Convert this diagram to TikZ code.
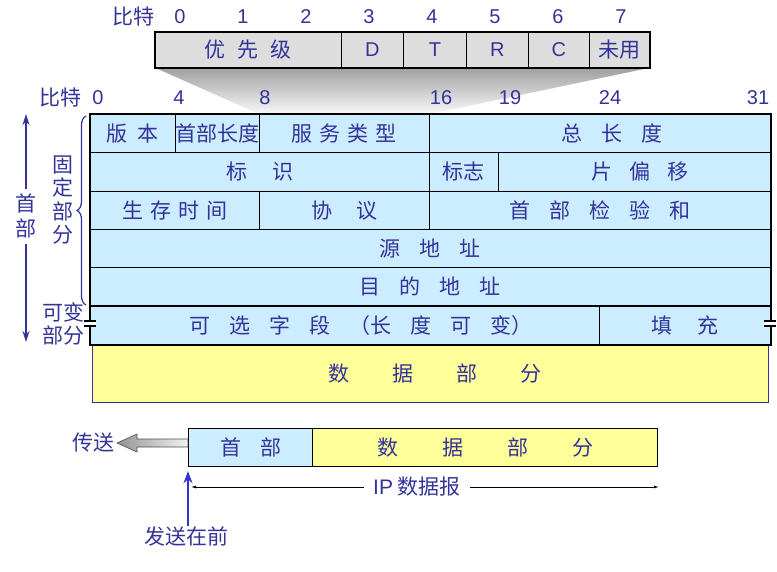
\documentclass[tikz,border=0pt]{standalone}
\usepackage{fontspec}
\setmainfont{Liberation Sans}
\newfontfamily\cjk{Noto Sans CJK SC}
\usetikzlibrary{arrows.meta,decorations.pathreplacing}
\definecolor{ipblue}{HTML}{CCECFF}
\definecolor{ipyellow}{HTML}{FFFF99}
\definecolor{ipgray}{HTML}{DDDDDD}
\definecolor{txtblue}{HTML}{333399}
\definecolor{sendblue}{HTML}{3333CC}
\newcommand\gap[1]{\hspace{#1pt}}

\begin{document}
\begin{tikzpicture}[x=1pt, y=-1pt,
  every node/.style={text=txtblue, inner sep=0pt, font=\fontsize{21}{25}\selectfont\cjk},
  latin/.style={font=\fontsize{20}{24}\selectfont},
  vert/.style={align=center, font=\fontsize{21}{23.5}\selectfont\cjk},
  cell/.style={draw, line width=0.8pt, fill=ipblue, anchor=north west, minimum height=38.33pt},
  flag/.style={draw, line width=0.8pt, fill=ipgray, anchor=north west, minimum height=35pt}]

\useasboundingbox (0,0) rectangle (777,571);

\node (bits1) at (133,17) {比特};
\foreach \b/\x in {0/180,1/243,2/306,3/369,4/432,5/495,6/558,7/621}
  \node[latin] (tb\b) at (\x,17) {\b};

\node[flag, minimum width=186pt] (prec) at (155,32) {优\gap{12}先\gap{12}级};
\node[flag, latin, minimum width=62pt] (fd) at (341,32) {D};
\node[flag, latin, minimum width=63pt] (ft) at (403,32) {T};
\node[flag, latin, minimum width=62pt] (fr) at (466,32) {R};
\node[flag, latin, minimum width=61pt] (fc) at (528,32) {C};
\node[flag, minimum width=60pt] (fu) at (589,32) {未用};

\shade[top color=gray!75, bottom color=gray!5]
  (prec.south west) -- (fu.south east) -- (430,114) -- (259,114) -- cycle;
\draw[line width=2pt] (prec.north west) rectangle (fu.south east);
\draw[line width=2.5pt] (prec.south west) -- (fu.south east);

\node (bits2) at (60,98) {比特};
\foreach \b/\x in {0/98,4/179,8/265,16/441,19/510,24/610,31/758}
  \node[latin] (mb\b) at (\x,98) {\b};

\node[draw=txtblue, line width=0.8pt, fill=ipyellow, anchor=north west,
  minimum width=676pt, minimum height=58pt] (data) at (92,344) {\gap{10}数\gap{43}据\gap{43}部\gap{43}分};

\node[cell, minimum width=85pt] (ver) at (90,114) {版\gap{10}本};
\node[cell, minimum width=84pt] (hlen) at (175,114) {首部长度};
\node[cell, minimum width=170pt] (tos) at (259,114) {服\gap7务\gap7类\gap7型};
\node[cell, minimum width=341pt] (tlen) at (429,114) {\gap{24}总\gap{19}长\gap{19}度};

\node[cell, minimum width=339pt] (ident) at (90,152.33) {标\gap{25}识};
\node[cell, minimum width=69pt] (flags) at (429,152.33) {标志};
\node[cell, minimum width=272pt] (frag) at (498,152.33) {\gap{12}片\gap{17}偏\gap{17}移};

\node[cell, minimum width=169pt] (ttl) at (90,190.67) {生\gap7存\gap7时\gap7间};
\node[cell, minimum width=170pt] (proto) at (259,190.67) {协\gap{24}议};
\node[cell, minimum width=341pt] (csum) at (429,190.67) {首\gap{19}部\gap{19}检\gap{19}验\gap{19}和};

\node[cell, minimum width=680pt] (src) at (90,229) {源\gap{19}地\gap{19}址};
\node[cell, minimum width=680pt] (dst) at (90,267.33) {目\gap{19}的\gap{19}地\gap{19}址};

\node[cell, minimum width=509pt] (opt) at (90,305.67)
  {\gap{32}可\gap{19}选\gap{19}字\gap{19}段\gap{19}（长\gap{19}度\gap{19}可\gap{19}变）};
\node[cell, minimum width=171pt] (pad) at (599,305.67) {填\gap{25}充};

\draw[line width=1.5pt] (opt.north west) -- (pad.north east);
\draw[line width=2pt] (ver.north west) rectangle (pad.south east);

\fill[white] (84,321) rectangle (96,326);
\fill[white] (764,321) rectangle (776,326);
\draw[line width=1.5pt] (84,321) -- (96,321) (84,326) -- (96,326)
  (764,321) -- (776,321) (764,326) -- (776,326);

\node[align=center] (hdr) at (26,216) {首\\部};
\coordinate (htop) at (26,114);
\coordinate (hbot) at (26,342);
\draw[txtblue, line width=2pt, -{Stealth[length=11pt,width=7pt]}, shorten <=5pt] (hdr.north) -- (htop);
\draw[txtblue, line width=2pt, -{Stealth[length=11pt,width=7pt]}, shorten <=6pt] (hdr.south) -- (hbot);

\node[vert] (fixed) at (63,200) {固\\定\\部\\分};
\coordinate (fixtop) at (86,116);
\coordinate (fixbot) at (86,305);
\draw[txtblue, line width=1.2pt, decorate, decoration={brace, amplitude=9pt}] (fixbot) -- (fixtop);
\node[vert] (var) at (63,324) {可变\\部分};

\node[cell, draw=black, line width=1.2pt, minimum height=38pt, minimum width=124pt] (bhead) at (188,428) {首\gap{19}部};
\node[cell, draw=black, line width=1.2pt, fill=ipyellow, minimum height=38pt, minimum width=345pt] (bdata) at (312,428)
  {数\gap{44}据\gap{44}部\gap{44}分};

\node (xmit) at (93,443) {传送};
\shade[left color=gray!85, right color=gray!10, draw=black!70, line width=0.6pt]
  (188,439) -- (137,439) -- (137,434) -- (117,443) -- (137,452) -- (137,447) -- (188,447) -- cycle;

\node (first) at (186,536) {发送在前};
\draw[sendblue, line width=2.5pt, -{Stealth[length=12pt,width=9pt]}, shorten >=4pt]
  (first.north -| bhead.south west) -- (bhead.south west);

\node[inner xsep=9pt] (iplen) at (417,487) {{\rmfamily IP} 数据报};
\coordinate (dimL) at (191,487);
\coordinate (dimR) at (659,487);
\draw[line width=0.8pt, {Latex[length=5pt,width=3pt]}-] (dimL) -- (iplen.west);
\draw[line width=0.8pt, -{Latex[length=5pt,width=3pt]}] (iplen.east) -- (dimR);
\end{tikzpicture}
\end{document}
